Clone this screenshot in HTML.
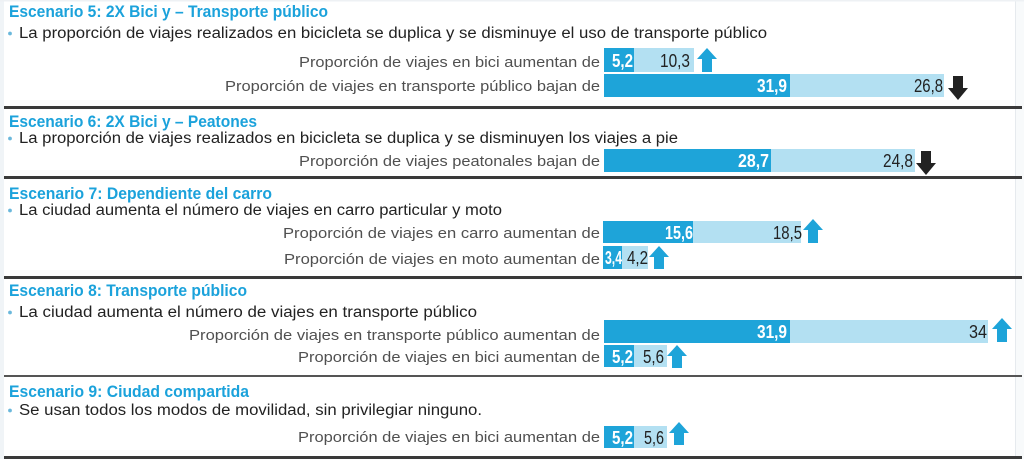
<!DOCTYPE html>
<html>
<head>
<meta charset="utf-8">
<style>
  html,body{margin:0;padding:0;background:#fff;}
  svg{display:block;}
  .t{font-family:"Liberation Sans",sans-serif;font-weight:bold;font-size:17px;fill:#1ba2db;}
  .s{font-family:"Liberation Sans",sans-serif;font-size:15.5px;fill:#222;}
  .l{font-family:"Liberation Sans",sans-serif;font-size:15px;fill:#505050;}
  .vw{font-family:"Liberation Sans",sans-serif;font-weight:bold;font-size:18px;fill:#fff;}
  .vd{font-family:"Liberation Sans",sans-serif;font-size:18px;fill:#222;}
</style>
</head>
<body>
<svg width="1024" height="459" viewBox="0 0 1024 459" xmlns="http://www.w3.org/2000/svg">
  <rect x="0" y="0" width="1024" height="459" fill="#ffffff"/>
  <rect x="0" y="0" width="4" height="459" fill="#f0f4f7"/>
  <rect x="1016" y="0" width="8" height="459" fill="#f8fafb"/>
  <rect x="1015" y="0" width="1" height="459" fill="#e6eaee"/>
  <rect x="0" y="0" width="1024" height="1.5" fill="#eef1f4"/>

  <!-- Separators -->
  <rect x="4" y="106" width="1018" height="3" fill="#3a3a3a"/>
  <rect x="4" y="176" width="1018" height="3" fill="#3a3a3a"/>
  <rect x="4" y="276" width="1018" height="3" fill="#3a3a3a"/>
  <rect x="4" y="375" width="1018" height="2" fill="#555"/>
  <rect x="4" y="456" width="1018" height="3" fill="#3a3a3a"/>

  <!-- Escenario 5 -->
  <text class="t" x="9" y="17" textLength="319" lengthAdjust="spacingAndGlyphs">Escenario 5: 2X Bici y – Transporte público</text>
  <circle cx="10" cy="33.5" r="1.9" fill="#6bb8dc"/>
  <text class="s" x="19" y="38" textLength="748" lengthAdjust="spacingAndGlyphs">La proporción de viajes realizados en bicicleta se duplica y se disminuye el uso de transporte público</text>
  <text class="l" x="600" y="67" text-anchor="end" textLength="301" lengthAdjust="spacingAndGlyphs">Proporción de viajes en bici aumentan de</text>
  <text class="l" x="600" y="91" text-anchor="end" textLength="375" lengthAdjust="spacingAndGlyphs">Proporción de viajes en transporte público bajan de</text>
  <rect x="604" y="48" width="30" height="24" fill="#1ea4d9"/>
  <rect x="634" y="48" width="60" height="24" fill="#b3e0f2"/>
  <text class="vw" x="633" y="67" text-anchor="end" textLength="21" lengthAdjust="spacingAndGlyphs">5,2</text>
  <text class="vd" x="690" y="67" text-anchor="end" textLength="30" lengthAdjust="spacingAndGlyphs">10,3</text>
  <polygon points="707,48 717,59 712,59 712,72 702,72 702,59 697,59" fill="#1ea4d9"/>
  <rect x="604" y="74" width="186" height="23" fill="#1ea4d9"/>
  <rect x="790" y="74" width="154" height="23" fill="#b3e0f2"/>
  <text class="vw" x="787" y="92" text-anchor="end" textLength="30" lengthAdjust="spacingAndGlyphs">31,9</text>
  <text class="vd" x="943" y="92" text-anchor="end" textLength="29" lengthAdjust="spacingAndGlyphs">26,8</text>
  <polygon points="953,76 963,76 963,88 968,88 958,100 948,88 953,88" fill="#222"/>

  <!-- Escenario 6 -->
  <text class="t" x="9" y="127" textLength="248" lengthAdjust="spacingAndGlyphs">Escenario 6: 2X Bici y – Peatones</text>
  <circle cx="10" cy="138.5" r="1.9" fill="#6bb8dc"/>
  <text class="s" x="19" y="143" textLength="659" lengthAdjust="spacingAndGlyphs">La proporción de viajes realizados en bicicleta se duplica y se disminuyen los viajes a pie</text>
  <text class="l" x="600" y="166" text-anchor="end" textLength="301" lengthAdjust="spacingAndGlyphs">Proporción de viajes peatonales bajan de</text>
  <rect x="604" y="149" width="167" height="23" fill="#1ea4d9"/>
  <rect x="771" y="149" width="144" height="23" fill="#b3e0f2"/>
  <text class="vw" x="769" y="167" text-anchor="end" textLength="31" lengthAdjust="spacingAndGlyphs">28,7</text>
  <text class="vd" x="913" y="167" text-anchor="end" textLength="30" lengthAdjust="spacingAndGlyphs">24,8</text>
  <polygon points="921,151 931,151 931,163 936,163 926,175 916,163 921,163" fill="#222"/>

  <!-- Escenario 7 -->
  <text class="t" x="9" y="199" textLength="263" lengthAdjust="spacingAndGlyphs">Escenario 7: Dependiente del carro</text>
  <circle cx="10" cy="210.5" r="1.9" fill="#6bb8dc"/>
  <text class="s" x="19" y="215" textLength="483" lengthAdjust="spacingAndGlyphs">La ciudad aumenta el número de viajes en carro particular y moto</text>
  <text class="l" x="600" y="238" text-anchor="end" textLength="317" lengthAdjust="spacingAndGlyphs">Proporción de viajes en carro aumentan de</text>
  <text class="l" x="600" y="264" text-anchor="end" textLength="316" lengthAdjust="spacingAndGlyphs">Proporción de viajes en moto aumentan de</text>
  <rect x="603" y="221" width="90" height="22" fill="#1ea4d9"/>
  <rect x="693" y="221" width="108" height="22" fill="#b3e0f2"/>
  <text class="vw" x="693" y="239" text-anchor="end" textLength="28" lengthAdjust="spacingAndGlyphs">15,6</text>
  <text class="vd" x="802" y="239" text-anchor="end" textLength="29" lengthAdjust="spacingAndGlyphs">18,5</text>
  <polygon points="813,219 823,230 818,230 818,243 808,243 808,230 803,230" fill="#1ea4d9"/>
  <rect x="603" y="246" width="19" height="23" fill="#1ea4d9"/>
  <rect x="622" y="246" width="26" height="23" fill="#b3e0f2"/>
  <text class="vw" x="622" y="264" text-anchor="end" textLength="17" lengthAdjust="spacingAndGlyphs">3,4</text>
  <text class="vd" x="648" y="264" text-anchor="end" textLength="21" lengthAdjust="spacingAndGlyphs">4,2</text>
  <polygon points="659,246 669,257 664,257 664,269 654,269 654,257 649,257" fill="#1ea4d9"/>

  <!-- Escenario 8 -->
  <text class="t" x="9" y="296" textLength="238" lengthAdjust="spacingAndGlyphs">Escenario 8: Transporte público</text>
  <circle cx="10" cy="312.5" r="1.9" fill="#6bb8dc"/>
  <text class="s" x="19" y="317" textLength="458" lengthAdjust="spacingAndGlyphs">La ciudad aumenta el número de viajes en transporte público</text>
  <text class="l" x="600" y="340" text-anchor="end" textLength="411" lengthAdjust="spacingAndGlyphs">Proporción de viajes en transporte público aumentan de</text>
  <text class="l" x="600" y="362" text-anchor="end" textLength="302" lengthAdjust="spacingAndGlyphs">Proporción de viajes en bici aumentan de</text>
  <rect x="604" y="320" width="186" height="23" fill="#1ea4d9"/>
  <rect x="790" y="320" width="198" height="23" fill="#b3e0f2"/>
  <text class="vw" x="787" y="338" text-anchor="end" textLength="30" lengthAdjust="spacingAndGlyphs">31,9</text>
  <text class="vd" x="987" y="338" text-anchor="end" textLength="18" lengthAdjust="spacingAndGlyphs">34</text>
  <polygon points="1002,318 1012,329 1007,329 1007,342 997,342 997,329 992,329" fill="#1ea4d9"/>
  <rect x="604" y="345" width="30" height="22" fill="#1ea4d9"/>
  <rect x="634" y="345" width="33" height="22" fill="#b3e0f2"/>
  <text class="vw" x="633" y="363" text-anchor="end" textLength="21" lengthAdjust="spacingAndGlyphs">5,2</text>
  <text class="vd" x="664" y="363" text-anchor="end" textLength="21" lengthAdjust="spacingAndGlyphs">5,6</text>
  <polygon points="677,345 687,356 682,356 682,368 672,368 672,356 667,356" fill="#1ea4d9"/>

  <!-- Escenario 9 -->
  <text class="t" x="9" y="397" textLength="240" lengthAdjust="spacingAndGlyphs">Escenario 9: Ciudad compartida</text>
  <circle cx="10" cy="410.5" r="1.9" fill="#6bb8dc"/>
  <text class="s" x="19" y="415" textLength="463" lengthAdjust="spacingAndGlyphs">Se usan todos los modos de movilidad, sin privilegiar ninguno.</text>
  <text class="l" x="600" y="442" text-anchor="end" textLength="302" lengthAdjust="spacingAndGlyphs">Proporción de viajes en bici aumentan de</text>
  <rect x="604" y="426" width="30" height="22" fill="#1ea4d9"/>
  <rect x="634" y="426" width="33" height="22" fill="#b3e0f2"/>
  <text class="vw" x="633" y="444" text-anchor="end" textLength="21" lengthAdjust="spacingAndGlyphs">5,2</text>
  <text class="vd" x="664" y="444" text-anchor="end" textLength="20" lengthAdjust="spacingAndGlyphs">5,6</text>
  <polygon points="679,422 689,433 684,433 684,445 674,445 674,433 669,433" fill="#1ea4d9"/>
</svg>
</body>
</html>
